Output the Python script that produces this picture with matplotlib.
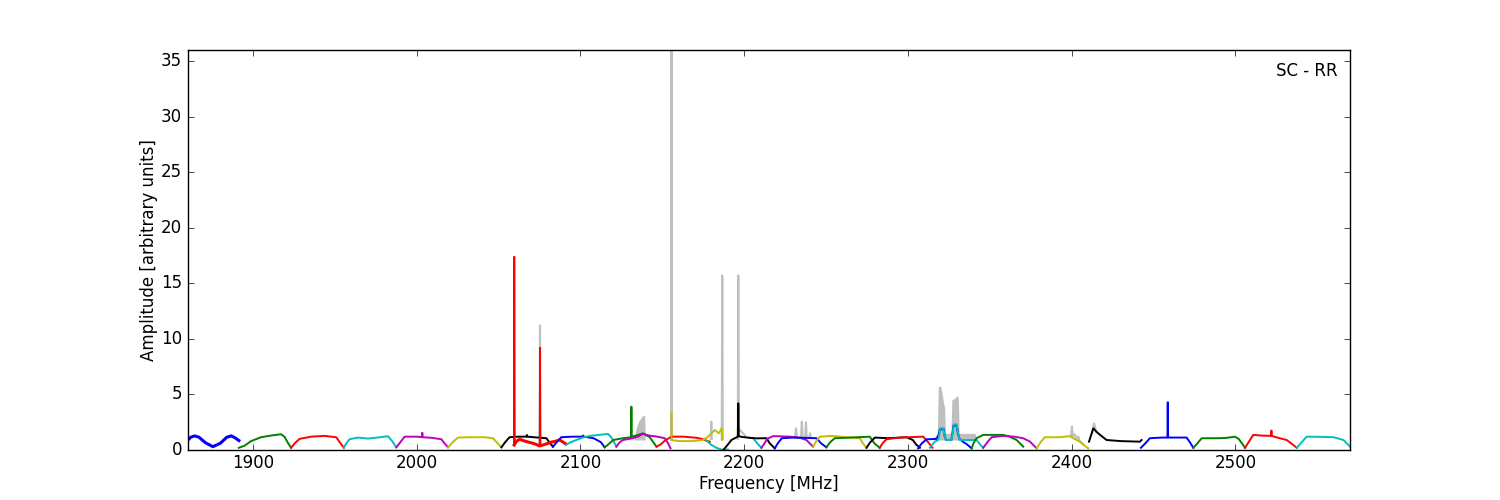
import matplotlib
matplotlib.use('Agg')
import matplotlib.pyplot as plt

plt.style.use('classic')

# bandpass segments (freq in MHz, amplitude)
seg_colors = ['b', 'g', 'r', 'c', 'm', 'y', 'k', 'r', 'b', 'c', 'g', 'm', 'r', 'y',
              'c', 'c', 'k', 'm', 'b', 'y', 'g', 'k', 'r', 'b', 'c', 'g', 'm', 'y',
              'k', 'b', 'g', 'r', 'c']
seg_thick = [0, 7]

seg_freqs = [
    [1860, 1862, 1864.3, 1867, 1871, 1875.5, 1880, 1884, 1886.7, 1889, 1891.4],
    [1891.4, 1895, 1898.8, 1904.9, 1911, 1917.1, 1919.2, 1921.5, 1923.3],
    [1923.3, 1925.5, 1928.4, 1935.5, 1943.7, 1950.8, 1953.5, 1955.5],
    [1955.5, 1957, 1959, 1964.1, 1970.2, 1976, 1982.4, 1985, 1987.5],
    [1987.5, 1990, 1992.6, 2000.7, 2003.2, 2003.4, 2003.6, 2009, 2015, 2017, 2019.1],
    [2019.1, 2022, 2025.2, 2033, 2041.5, 2046.5, 2049.5, 2051.7],
    [2051.7, 2054, 2056.7, 2062, 2067, 2067.3, 2067.6, 2074, 2079.2, 2081.5, 2083.2],
    [2059.5, 2061, 2062.9, 2065, 2067, 2071, 2073, 2075, 2077, 2079.2, 2082, 2085, 2087.3, 2089, 2091],
    [2083.2, 2085.5, 2088.3, 2095, 2101.5, 2101.7, 2102, 2108, 2112.5, 2114.8],
    [2091, 2094, 2097.5, 2101, 2105.6, 2111, 2116.8, 2118.5, 2119.9, 2121.9],
    [2114.8, 2117, 2120, 2126, 2130.9, 2131.1, 2131.3, 2134, 2138.2, 2142.3, 2144.5, 2146.4],
    [2121.9, 2124, 2126, 2132, 2135, 2138.2, 2142, 2147, 2151.5, 2153.5, 2155],
    [2146.4, 2149, 2151.5, 2155.5, 2163, 2170.8, 2174, 2177, 2179],
    [2155.6, 2155.7, 2158, 2160.6, 2168, 2174.9, 2178, 2182, 2184.5, 2186.3, 2186.6],
    [2177, 2180, 2183, 2186, 2188, 2190],
    [2203, 2205.4, 2208, 2210.5],
    [2187.5, 2189, 2192.2, 2196.1, 2196.4, 2196.7, 2197.5, 2203, 2207.5, 2213.6, 2215.6, 2218.7],
    [2210.5, 2212, 2214, 2217.7, 2227.8, 2234, 2238, 2240, 2242.1],
    [2218.7, 2220.5, 2223, 2230, 2236, 2240, 2244.1, 2247, 2250.2],
    [2242.1, 2244, 2246.2, 2254.3, 2262, 2270.6, 2272.5, 2274.7],
    [2250.2, 2252.5, 2255.3, 2265, 2276.7, 2279.5, 2282.8],
    [2274.7, 2277, 2279.8, 2288, 2299.1, 2303, 2305, 2307.3],
    [2282.8, 2284.5, 2286.9, 2295, 2309.3, 2312, 2315],
    [2306.2, 2308.5, 2311.4, 2317.5, 2318.8, 2319.5, 2321.9, 2322.5, 2323.3, 2326.5, 2327.2, 2327.8,
     2329.8, 2330.5, 2331.5, 2334, 2335.8, 2338.9],
    [2313.4, 2315, 2316.5, 2318.5, 2319.3, 2319.8, 2321.7, 2322.3, 2323.2, 2326.6, 2327.4, 2328,
     2329.8, 2330.5, 2331.5, 2337, 2341.9, 2344, 2346],
    [2338.9, 2340, 2341.9, 2346, 2358.2, 2362, 2366.4, 2370.4],
    [2346, 2348.5, 2351.1, 2358, 2365, 2370.4, 2374.5, 2378.6],
    [2378.6, 2381, 2383.6, 2392.8, 2399, 2401, 2405, 2410.1],
    [2410.6, 2413.2, 2416.2, 2421.3, 2430, 2441.7, 2442.7],
    [2442.3, 2445, 2447.8, 2455, 2458.5, 2458.7, 2458.9, 2465, 2470.2, 2472.2, 2474.3],
    [2474.3, 2476.8, 2479.4, 2490, 2495, 2499.7, 2502, 2504, 2505.9],
    [2505.9, 2508.5, 2510.9, 2516, 2521.8, 2522, 2522.2, 2526, 2531.3, 2534.5, 2537.5],
    [2537.5, 2540.5, 2543.6, 2553, 2560, 2566, 2568, 2570],
]
seg_amps = [
    [0.85, 1.15, 1.27, 1.15, 0.65, 0.3, 0.6, 1.15, 1.27, 1.1, 0.85],
    [0.2, 0.4, 0.8, 1.15, 1.3, 1.42, 1.2, 0.6, 0.2],
    [0.2, 0.6, 1.0, 1.2, 1.27, 1.15, 0.6, 0.2],
    [0.2, 0.6, 0.97, 1.12, 1.03, 1.12, 1.24, 0.8, 0.24],
    [0.24, 0.7, 1.2, 1.2, 1.15, 1.55, 1.15, 1.1, 0.97, 0.6, 0.24],
    [0.24, 0.7, 1.12, 1.15, 1.15, 1.06, 0.6, 0.24],
    [0.24, 0.7, 1.15, 1.2, 1.2, 1.35, 1.2, 1.12, 1.06, 0.6, 0.3],
    [0.45, 0.8, 0.97, 0.85, 0.76, 0.6, 0.5, 0.36, 0.45, 0.55, 0.7, 0.8, 0.9, 0.75, 0.55],
    [0.3, 0.7, 1.15, 1.2, 1.2, 1.3, 1.2, 1.06, 0.7, 0.24],
    [0.45, 0.7, 0.9, 1.1, 1.27, 1.35, 1.45, 1.2, 0.9, 0.3],
    [0.24, 0.5, 0.9, 1.06, 1.15, 3.9, 1.2, 1.3, 1.5, 1.15, 0.7, 0.3],
    [0.3, 0.7, 0.9, 1.06, 1.2, 1.45, 1.3, 1.2, 1.06, 0.6, 0.15],
    [0.3, 0.5, 0.84, 1.2, 1.2, 1.1, 1.0, 0.84, 0.75],
    [3.3, 0.9, 0.84, 0.8, 0.8, 0.9, 1.2, 1.8, 1.5, 1.95, 0.9],
    [0.84, 0.45, 0.2, 0.05, 0.0, 0.05],
    [1.1, 1.06, 0.6, 0.2],
    [0.05, 0.3, 0.9, 1.2, 4.2, 1.3, 1.2, 1.1, 1.05, 1.06, 0.6, 0.15],
    [0.2, 0.5, 1.0, 1.25, 1.2, 1.1, 0.9, 0.6, 0.3],
    [0.15, 0.6, 1.06, 1.12, 1.1, 1.08, 1.06, 0.6, 0.24],
    [0.3, 0.8, 1.2, 1.27, 1.15, 1.06, 0.6, 0.2],
    [0.24, 0.7, 1.06, 1.12, 1.2, 0.6, 0.2],
    [0.2, 0.7, 1.12, 1.06, 1.15, 0.9, 0.5, 0.2],
    [0.2, 0.6, 0.97, 1.12, 1.2, 0.76, 0.2],
    [0.15, 0.6, 0.96, 1.0, 1.4, 1.86, 1.86, 1.2, 0.9, 0.9, 1.5, 2.2, 2.2, 1.5, 1.0, 0.7, 0.54, 0.15],
    [0.2, 0.5, 0.75, 0.9, 1.5, 1.95, 1.95, 1.3, 0.9, 0.9, 1.6, 2.3, 2.3, 1.6, 0.9, 0.9, 0.9, 0.5, 0.2],
    [0.15, 0.6, 1.06, 1.36, 1.36, 1.2, 0.9, 0.3],
    [0.2, 0.7, 1.15, 1.27, 1.2, 1.06, 0.76, 0.15],
    [0.15, 0.7, 1.15, 1.15, 1.25, 1.05, 0.75, 0.15],
    [0.75, 1.95, 1.5, 0.9, 0.8, 0.75, 0.9],
    [0.2, 0.6, 1.06, 1.12, 1.12, 4.3, 1.12, 1.12, 1.12, 0.7, 0.2],
    [0.2, 0.6, 1.06, 1.06, 1.1, 1.2, 1.0, 0.6, 0.2],
    [0.2, 0.8, 1.36, 1.3, 1.27, 1.75, 1.27, 1.1, 0.9, 0.55, 0.2],
    [0.2, 0.7, 1.2, 1.18, 1.15, 0.9, 0.6, 0.3],
]

# narrow RFI spikes in the thick red segment
red_spike_freqs = [[2059.4, 2059.6, 2059.9], [2075.1, 2075.3, 2075.5]]
red_spike_amps = [[0.5, 17.4, 0.5], [0.4, 9.2, 0.4]]

# raw (unflagged) data, grey
raw_freqs = [
    [2075.0, 2075.3, 2075.6],
    [2155.3, 2155.6, 2155.9],
    [2179.6, 2179.9, 2180.2],
    [2186.3, 2186.6, 2186.9],
    [2196.1, 2196.4, 2196.7, 2198, 2200, 2201],
    [2231, 2231.7, 2232.2, 2234.7, 2235.2, 2235.7, 2237.2, 2237.7, 2238.2, 2239.7, 2240.2, 2240.7],
    [2399.5, 2400.2, 2400.7, 2402, 2403, 2404, 2405, 2407],
    [2412.5, 2413.7, 2415],
]
raw_amps = [
    [0.5, 11.2, 0.5],
    [0.9, 40, 0.9],
    [1.0, 2.55, 1.0],
    [1.0, 15.7, 1.0],
    [1.0, 15.7, 1.9, 1.7, 1.4, 1.2],
    [1.1, 1.95, 1.1, 1.1, 2.55, 1.1, 1.1, 2.5, 1.1, 1.1, 1.5, 1.1],
    [1.2, 2.1, 1.2, 1.4, 1.0, 1.2, 0.8, 0.5],
    [1.5, 2.4, 1.6],
]
raw_fill_freqs = [
    [2133, 2134.5, 2136, 2137.5, 2138.5, 2139.2, 2139.6],
    [2316, 2318, 2318.5, 2320, 2321, 2321.8, 2322.4, 2323, 2326.3, 2326.8, 2328,
     2329.5, 2330.4, 2330.8, 2331.3, 2335, 2341, 2342],
]
raw_fill_amps = [
    [1.3, 2.2, 2.7, 3.0, 3.15, 3.1, 1.4],
    [1.2, 1.35, 5.7, 5.75, 5.0, 4.2, 3.8, 1.5, 1.5, 4.5, 4.6, 4.8, 4.9, 4.6, 1.5, 1.5, 1.5, 1.0],
]

fig = plt.figure(figsize=(15, 5), dpi=100, facecolor='white')
ax = fig.add_subplot(111)

for f, a in zip(raw_fill_freqs, raw_fill_amps):
    ax.fill_between(f, 0.9, a, color='0.75', linewidth=0)
for f, a in zip(raw_freqs, raw_amps):
    ax.plot(f, a, color='0.75', lw=1.5)

for i, (f, a) in enumerate(zip(seg_freqs, seg_amps)):
    lw = 2.2 if i in seg_thick else 1.4
    ax.plot(f, a, color=seg_colors[i], lw=lw)

for f, a in zip(red_spike_freqs, red_spike_amps):
    ax.plot(f, a, color='r', lw=1.3)

ax.set_xlim(1860, 2570)
ax.set_ylim(0, 36)
ax.set_xticks([1900, 2000, 2100, 2200, 2300, 2400, 2500])
ax.set_yticks([0, 5, 10, 15, 20, 25, 30, 35])
ax.tick_params(axis='x', pad=3)
ax.set_xlabel('Frequency [MHz]', labelpad=2)
ax.set_ylabel('Amplitude [arbitrary units]', labelpad=2)
ax.text(0.989, 0.97, 'SC - RR', transform=ax.transAxes, ha='right', va='top', fontsize=12)

fig.savefig('out.png', dpi=100, facecolor='white')
